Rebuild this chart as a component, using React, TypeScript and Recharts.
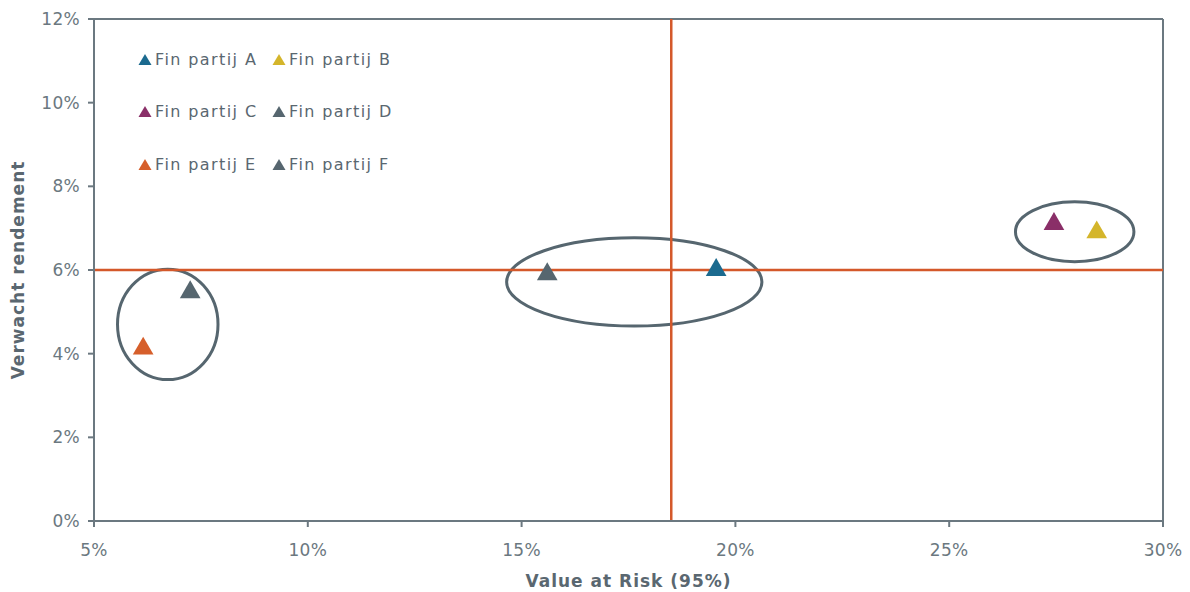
import React from 'react';
import {
  ScatterChart, Scatter, XAxis, YAxis, ReferenceLine, ReferenceArea, Symbols,
} from 'recharts';

// series
const partijNames = ['Fin partij A', 'Fin partij B', 'Fin partij C', 'Fin partij D', 'Fin partij E', 'Fin partij F'];
const partijColors = ['#1b6a8f', '#d4b52b', '#8a2f68', '#56666f', '#d65f2b', '#56666f'];
const valueAtRisk = [19.55, 28.45, 27.45, 15.6, 6.15, 7.25];
const expectedReturn = [6.0, 6.9, 7.1, 5.9, 4.12, 5.47];

// axis ticks
const xTicks = [5, 10, 15, 20, 25, 30];
const yTicks = [0, 2, 4, 6, 8, 10, 12];

// quadrant lines
const varThreshold = 18.5;
const returnThreshold = 6;

// groups circled on the chart
const groupX1 = [5.55, 14.65, 26.55];
const groupX2 = [7.9, 20.62, 29.32];
const groupY1 = [3.38, 4.66, 6.2];
const groupY2 = [6.02, 6.77, 7.63];

const axisGray = '#6b7880';
const textGray = '#5a6770';
const lineOrange = '#d4582a';

const Ellipse = (props: any) => {
  const { x, y, width, height } = props;
  return (
    <ellipse
      cx={x + width / 2}
      cy={y + height / 2}
      rx={width / 2}
      ry={height / 2}
      fill="none"
      stroke="#56666f"
      strokeWidth={3}
    />
  );
};

const Triangle = (props: any) => (
  <Symbols cx={props.cx} cy={props.cy} type="triangle" size={185} fill={props.fill} />
);

const LegendBox = () => (
  <div style={{ position: 'absolute', left: 138, top: 33, display: 'grid', gridTemplateColumns: '134px 134px', fontSize: 16, letterSpacing: 1.4, color: textGray }}>
    {partijNames.map((name, i) => (
      <div key={name} style={{ height: 52.5, display: 'flex', alignItems: 'center' }}>
        <svg width={14} height={13} style={{ marginRight: 3 }}>
          <polygon points="7,1 13.5,12 0.5,12" fill={partijColors[i]} />
        </svg>
        <span>{name}</span>
      </div>
    ))}
  </div>
);

export default function App() {
  return (
    <div style={{ position: 'absolute', left: 0, top: 0, width: 1190, height: 592, background: '#fff', fontFamily: 'DejaVu Sans' }}>
      <ScatterChart width={1190} height={592} margin={{ top: 19, right: 27, bottom: 0, left: 0 }}>
        <XAxis
          type="number"
          dataKey="x"
          domain={[5, 30]}
          ticks={xTicks}
          tickFormatter={(v: number) => `${v}%`}
          height={71}
          stroke={axisGray}
          strokeWidth={2}
          tickSize={6}
          tickMargin={17}
          tick={{ fill: axisGray, fontSize: 17, letterSpacing: 0.3 }}
          label={{ value: 'Value at Risk (95%)', position: 'insideBottom', offset: 5, fill: textGray, fontSize: 17, fontWeight: 'bold', letterSpacing: 1 }}
        />
        <YAxis
          type="number"
          dataKey="y"
          domain={[0, 12]}
          ticks={yTicks}
          tickFormatter={(v: number) => `${v}%`}
          width={94}
          stroke={axisGray}
          strokeWidth={2}
          tickSize={6}
          tickMargin={8}
          tick={{ fill: axisGray, fontSize: 17, letterSpacing: 0.3 }}
          label={{ value: 'Verwacht rendement', angle: -90, position: 'center', dx: -29, fill: textGray, fontSize: 17, fontWeight: 'bold', letterSpacing: 1 }}
        />
        <ReferenceLine y={12} stroke={axisGray} strokeWidth={2} />
        <ReferenceLine x={30} stroke={axisGray} strokeWidth={2} />
        <ReferenceLine x={varThreshold} stroke={lineOrange} strokeWidth={2.5} />
        <ReferenceLine y={returnThreshold} stroke={lineOrange} strokeWidth={2.5} />
        {groupX1.map((x1, i) => (
          <ReferenceArea key={i} x1={x1} x2={groupX2[i]} y1={groupY1[i]} y2={groupY2[i]} shape={Ellipse} />
        ))}
        {partijNames.map((name, i) => (
          <Scatter
            key={name}
            name={name}
            data={[{ x: valueAtRisk[i], y: expectedReturn[i] }]}
            fill={partijColors[i]}
            shape={Triangle}
            isAnimationActive={false}
          />
        ))}
      </ScatterChart>
      <LegendBox />
    </div>
  );
}
